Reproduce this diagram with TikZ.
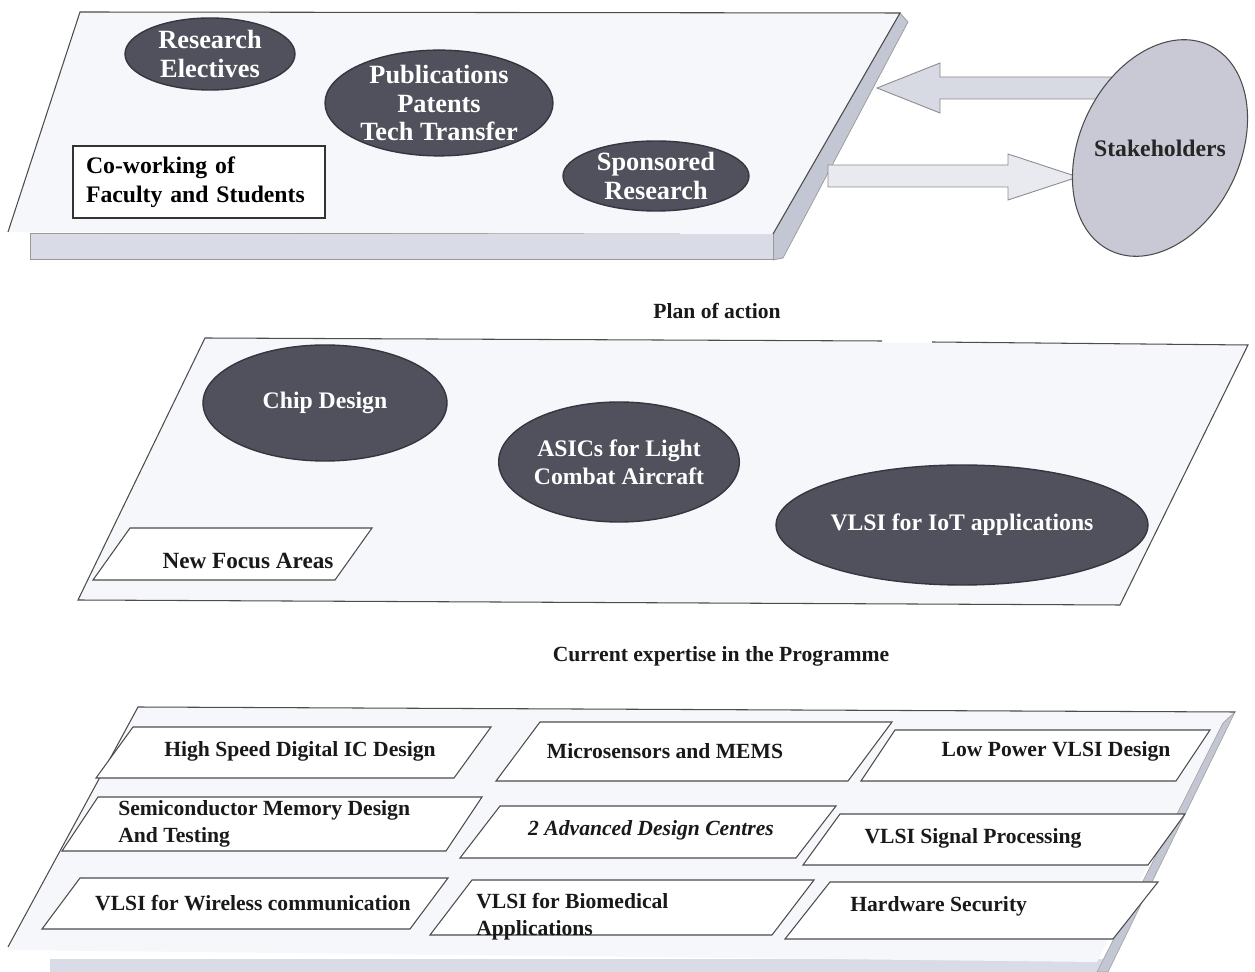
\documentclass[tikz,border=0pt]{standalone}
\usepackage{fontspec}
\setmainfont{Liberation Serif}
\usetikzlibrary{calc,shapes.geometric}

\definecolor{slab}{HTML}{F6F7FA}
\definecolor{rim}{HTML}{D9DCE6}
\definecolor{flank}{HTML}{C3C6D3}
\definecolor{blob}{HTML}{50515C}
\definecolor{blobrim}{HTML}{35363F}
\definecolor{crowd}{HTML}{C8C9D4}
\definecolor{pipe}{HTML}{D7D9E3}

\tikzset{
  outline/.style={draw=black!70,line width=.6pt},
  blob/.style={ellipse,fill=blob,draw=blobrim,line width=.8pt,text=white,align=center,inner sep=0pt,font=\bfseries\fontsize{15}{16}\selectfont},
  cell/.style={draw=black!70,fill=white,line width=.6pt},
  lbl/.style={text=black!90,font=\bfseries\fontsize{12.3}{15.4}\selectfont,align=left,inner sep=0pt},
  bigarrow/.style={draw=black!45,line width=.5pt,line join=miter},
}

\begin{document}
\begin{tikzpicture}[x=0.02cm,y=-0.02cm]
\useasboundingbox (0,0) rectangle (1255,972);

% upper slab
\fill[flank,draw=black!40,line width=.4pt] (900,13) -- (908,22) -- (783,258) -- (773,260) -- (773,234) -- cycle;
\fill[rim,draw=black!40,line width=.4pt] (30,233) rectangle (773,259);
\fill[slab] (80,12) -- (900,13) -- (773,234) -- (8,232) -- cycle;
\draw[outline] (8,232) -- (80,12) -- (900,13) -- (773,234);
\node[blob,minimum width=3.4cm,minimum height=1.44cm] (res) at (210,54) {Research\\Electives};
\node[blob,minimum width=4.56cm,minimum height=1.76cm] (pub) at (439,103) {Publications\\Patents\\Tech Transfer};
\node[blob,minimum width=3.72cm,minimum height=1.4cm] (spon) at (656,176) {Sponsored\\Research};
\node[draw=black!80,fill=white,line width=.6pt,minimum width=5.04cm,minimum height=1.44cm,text width=4.52cm,inner xsep=.26cm,align=left,
  font=\bfseries\fontsize{13.5}{16.5}\selectfont] (cowork) at (199,182) {Co-working of\\Faculty and Students};

% stakeholders and the two flows
\coordinate (in) at (877,88); \coordinate (out) at (1078,177); \coordinate (hub) at (1160,148);
\draw[bigarrow,fill=pipe] (in) -- ++(63,-25) -- ++(0,14) -- ++(180,0) -- ++(0,22) -- ++(-180,0) -- ++(0,14) -- cycle;
\draw[bigarrow,fill=pipe!55!white] (out) -- ++(-70,-23) -- ++(0,11) -- ++(-180,0) -- ++(0,22) -- ++(180,0) -- ++(0,13) -- cycle;
\draw[fill=crowd,draw=black!70,line width=.6pt,rotate around={64:(hub)}] (hub) ellipse (2.28cm and 1.6cm);
\node[text=black!85,inner sep=0pt,font=\bfseries\fontsize{13.5}{16}\selectfont] (stake) at (hub) {Stakeholders};

% middle slab
\node[lbl] (plan) at (717,311) {Plan of action};
\fill[slab] (205,338) -- (1248,345) -- (1120,605) -- (78,600) -- cycle;
\draw[outline] (932,342) -- (1248,345) -- (1120,605) -- (78,600) -- (205,338) -- (882,341);
\node[blob,font=\bfseries\fontsize{13.5}{16}\selectfont,minimum width=4.88cm,minimum height=2.32cm] (chip) at (325,403) {Chip Design};
\node[blob,font=\bfseries\fontsize{13.5}{16}\selectfont,minimum width=4.52cm,minimum height=2.4cm] (asic) at (619,462) {ASICs for Light\\Combat Aircraft};
\node[blob,font=\bfseries\fontsize{13.5}{16}\selectfont,minimum width=6.52cm,minimum height=2.4cm] (iot) at (962,525) {VLSI for IoT applications};
\draw[cell] (130,528) -- ++(242,0) -- ++(-37,52) -- ++(-242,0) -- cycle;
\node[lbl,font=\bfseries\fontsize{13.2}{16}\selectfont] (nfa) at (248,561) {New Focus Areas};

% lower slab
\node[lbl] (now) at (721,656) {Current expertise in the Programme};
\fill[rim] (50,959) rectangle (1105,972);
\fill[slab] (138,707) -- (1235,712) -- (1223,723) -- (1097,962) -- (8,950) -- cycle;
\fill[flank,draw=black!35,line width=.4pt] (1235,712) -- (1108,972) -- (1097,972) -- (1223,723) -- cycle;
\draw[outline] (8,947) -- (138,707) -- (1235,712);
\foreach \x/\y/\w/\h/\s in {133/727/358/51/37, 540/722/352/59/44, 895/730/315/51/34,
  98/797/384/54/36, 500/806/336/52/40, 840/814/345/51/37,
  80/878/368/51/38, 472/880/342/55/42, 830/882/328/57/45}
  \draw[cell] (\x,\y) -- ++(\w,0) -- ++(-\s,\h) -- ++(-\w,0) -- cycle;
\node[lbl] (hsd) at (300,751) {High Speed Digital IC Design};
\node[lbl] (mems) at (665,751) {Microsensors and MEMS};
\node[lbl] (lpw) at (1056,751) {Low Power VLSI Design};
\node[lbl,anchor=west] (mem) at (118,824) {Semiconductor Memory Design\\And Testing};
\node[lbl,font=\bfseries\itshape\fontsize{12.3}{15.4}\selectfont] (adc) at (651,830) {2 Advanced Design Centres};
\node[lbl] (dsp) at (973,838) {VLSI Signal Processing};
\node[lbl] (rf) at (253,903) {VLSI for Wireless communication};
\node[lbl,anchor=west] (bio) at (476,917) {VLSI for Biomedical\\Applications};
\node[lbl,anchor=west] (hws) at (850,906) {Hardware Security};
\end{tikzpicture}
\end{document}
